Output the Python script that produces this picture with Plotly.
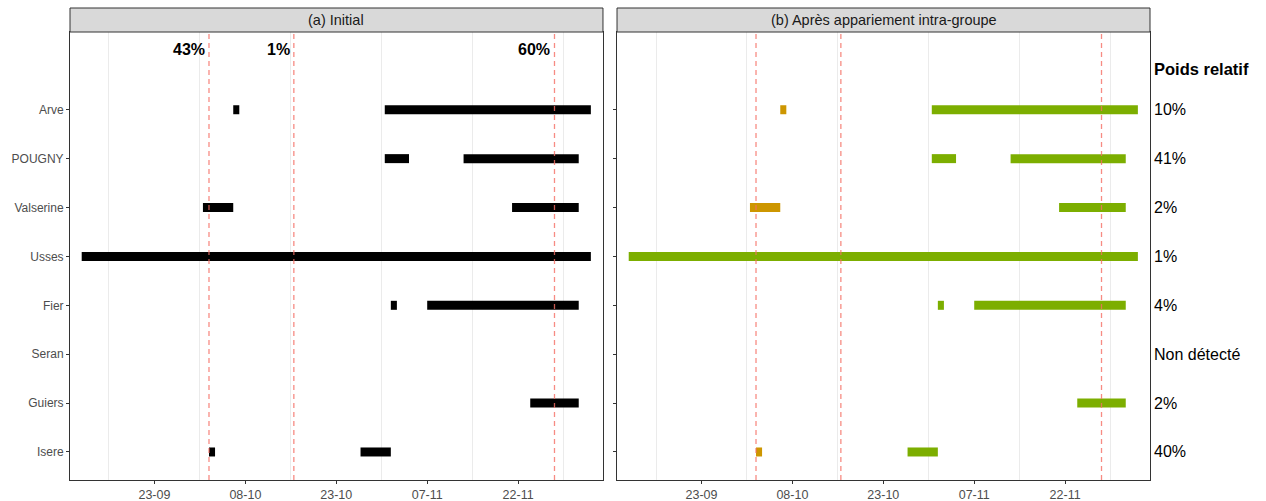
import plotly.graph_objects as go

# ---------------- data ----------------
rivers = ["Arve", "POUGNY", "Valserine", "Usses", "Fier", "Seran", "Guiers", "Isere"]  # top -> bottom
weights = ["10%", "41%", "2%", "1%", "4%", "Non détecté", "2%", "40%"]

seg_river = ["Arve", "Arve", "POUGNY", "POUGNY", "Valserine", "Valserine", "Usses",
             "Fier", "Fier", "Guiers", "Isere", "Isere"]
seg_start = ["2020-10-06", "2020-10-31", "2020-10-31", "2020-11-13", "2020-10-01", "2020-11-21",
             "2020-09-11", "2020-11-01", "2020-11-07", "2020-11-24", "2020-10-02", "2020-10-27"]
seg_end = ["2020-10-07", "2020-12-04", "2020-11-04", "2020-12-02", "2020-10-06", "2020-12-02",
           "2020-12-04", "2020-11-02", "2020-12-02", "2020-12-02", "2020-10-03", "2020-11-01"]
seg_group = ["early", "late", "late", "late", "early", "late",
             "late", "late", "late", "late", "early", "late"]

event_dates = ["2020-10-02", "2020-10-16", "2020-11-28"]
event_pct = ["43%", "1%", "60%"]

tick_dates = ["2020-09-23", "2020-10-08", "2020-10-23", "2020-11-07", "2020-11-22"]
tick_labels = ["23-09", "08-10", "23-10", "07-11", "22-11"]
minor_dates = ["2020-09-15 12:00", "2020-09-30 12:00", "2020-10-15 12:00",
               "2020-10-30 12:00", "2020-11-14 12:00", "2020-11-29 12:00"]

x_range = ["2020-09-09 01:40", "2020-12-06 00:00"]
panel_titles = ["(a) Initial", "(b) Après appariement intra-groupe"]
group_colors = {"early": "#CD9600", "late": "#7CAE00"}

# ---------------- helpers ----------------
FONT = "Liberation Sans, Arial, sans-serif"
ypos = {r: len(rivers) - i for i, r in enumerate(rivers)}  # Arve=8 ... Isere=1


def seg_xy(groups=None):
    xs, ys = [], []
    for r, s, e, g in zip(seg_river, seg_start, seg_end, seg_group):
        if groups is not None and g not in groups:
            continue
        xs += [s, e, None]
        ys += [ypos[r], ypos[r], None]
    return xs, ys


fig = go.Figure()

# panel (a): black bars
xs, ys = seg_xy()
fig.add_trace(go.Scatter(x=xs, y=ys, mode="lines", line=dict(color="black", width=9),
                         xaxis="x", yaxis="y", showlegend=False, hoverinfo="skip"))

# panel (b): coloured bars
for g in ["early", "late"]:
    xs, ys = seg_xy([g])
    fig.add_trace(go.Scatter(x=xs, y=ys, mode="lines", line=dict(color=group_colors[g], width=9),
                             xaxis="x2", yaxis="y2", showlegend=False, hoverinfo="skip"))

H_PLOT = 448
strip_h = 24 / H_PLOT
y_range = [0.427, 9.59]

common_x = dict(type="date", range=x_range, tickmode="array", tickvals=tick_dates,
                ticktext=tick_labels, ticks="outside", ticklen=3, tickcolor="#333333",
                tickfont=dict(size=12.5, color="#4d4d4d", family=FONT),
                showgrid=False, zeroline=False, showline=True, mirror=True,
                linecolor="#333333", linewidth=1, automargin=False,
                minor=dict(tickvals=minor_dates, showgrid=True, gridcolor="#ebebeb",
                           gridwidth=1, ticklen=0))
common_y = dict(range=y_range, tickmode="array", tickvals=[ypos[r] for r in rivers],
                ticktext=rivers, ticks="outside", ticklen=3, tickcolor="#333333",
                tickfont=dict(size=12, color="#4d4d4d", family=FONT),
                showgrid=False, zeroline=False, showline=True, mirror=True,
                linecolor="#333333", linewidth=1, automargin=False)

fig.update_layout(
    width=1266, height=501,
    margin=dict(l=70, r=116, t=32, b=21, autoexpand=False),
    paper_bgcolor="white", plot_bgcolor="white",
    font=dict(family=FONT, color="black"),
    xaxis=dict(domain=[0, 0.4935], anchor="y", **common_x),
    xaxis2=dict(domain=[0.5065, 1], anchor="y2", **common_x),
    yaxis=dict(domain=[0, 1], anchor="x", **common_y),
    yaxis2=dict(domain=[0, 1], anchor="x2", showticklabels=False, **common_y),
)

shapes = []
annotations = []
for i, (xr, yr) in enumerate([("x", "y"), ("x2", "y2")]):
    # strip
    shapes.append(dict(type="rect", xref=f"{xr} domain", yref=f"{yr} domain",
                       x0=0, x1=1, y0=1, y1=1 + strip_h,
                       fillcolor="#d9d9d9", line=dict(color="#333333", width=1), layer="above"))
    annotations.append(dict(xref=f"{xr} domain", yref=f"{yr} domain", x=0.5, y=1 + strip_h / 2,
                            text=panel_titles[i], showarrow=False, xanchor="center", yanchor="middle",
                            font=dict(size=14.5, color="#1a1a1a", family=FONT)))
    # dashed event lines
    for d in event_dates:
        shapes.append(dict(type="line", xref=xr, yref=f"{yr} domain", x0=d, x1=d, y0=0, y1=1,
                           line=dict(color="rgba(245,110,100,0.8)", width=1.3, dash="5px,4px"),
                           layer="above"))

# percentage labels on panel (a)
for d, p in zip(event_dates, event_pct):
    annotations.append(dict(xref="x", yref="y", x=d, y=9.23, text=f"<b>{p}</b>", showarrow=False,
                            xanchor="right", yanchor="middle", xshift=-2,
                            font=dict(size=16, color="black", family=FONT)))

# right-side weights
annotations.append(dict(xref="x2 domain", yref="y2", x=1, y=8.84, text="<b>Poids relatif</b>",
                        showarrow=False, xanchor="left", yanchor="middle", xshift=2,
                        font=dict(size=16.5, color="black", family=FONT)))
for r, w in zip(rivers, weights):
    annotations.append(dict(xref="x2 domain", yref="y2", x=1, y=ypos[r], text=w,
                            showarrow=False, xanchor="left", yanchor="middle", xshift=2,
                            font=dict(size=16, color="black", family=FONT)))

fig.update_layout(shapes=shapes, annotations=annotations)
fig.write_html("out.html", config={"displayModeBar": False},
               post_script="document.body.style.margin='0';document.body.style.overflow='hidden';")
